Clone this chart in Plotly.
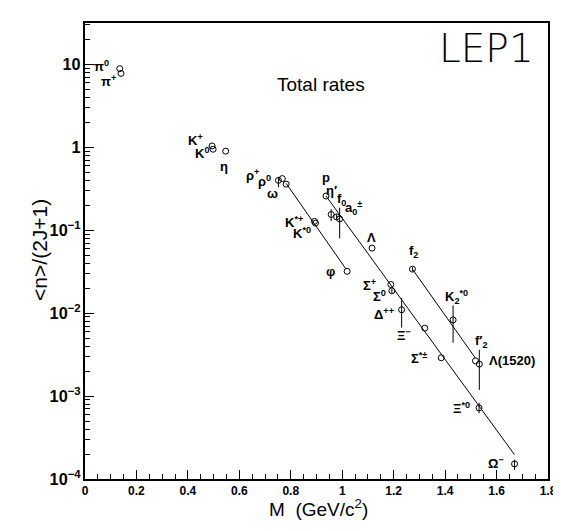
import numpy as np
import plotly.graph_objects as go

# ---- data ----
particles = ["pi0", "pi+", "K+", "K0", "eta", "rho+", "rho0", "omega", "K*+", "K*0", "phi",
             "p", "eta'", "f0", "a0+-", "Lambda", "Sigma+", "Sigma0", "Delta++", "f2", "Xi-",
             "Sigma*", "K2*0", "f2'", "Lambda(1520)", "Xi*0", "Omega-"]
mass = [0.135, 0.140, 0.494, 0.498, 0.547, 0.752, 0.767, 0.782, 0.892, 0.896, 1.019,
        0.937, 0.957, 0.978, 0.990, 1.116, 1.189, 1.193, 1.231, 1.273, 1.321,
        1.385, 1.431, 1.518, 1.533, 1.532, 1.670]
rate = [8.9, 7.8, 1.04, 0.95, 0.90, 0.40, 0.42, 0.36, 0.128, 0.122, 0.032,
        0.259, 0.155, 0.145, 0.137, 0.061, 0.0222, 0.0186, 0.011, 0.034, 0.0066,
        0.0029, 0.0083, 0.00266, 0.00243, 0.00072, 1.52e-4]
err_up = [0, 0, 0, 0, 0, 0.04, 0, 0, 0, 0, 0,
          0, 0.025, 0.01, 0.05, 0, 0, 0.0012, 0.0042, 0.002, 0,
          0, 0.0041, 0, 0.0012, 0.00011, 0.19e-4]
err_down = [0, 0, 0, 0, 0, 0.07, 0, 0, 0, 0, 0,
            0, 0.026, 0.01, 0.057, 0, 0, 0.0012, 0.0043, 0.002, 0,
            0, 0.0039, 0, 0.00124, 0.0001, 0.23e-4]

# fitted lines (start/end mass, start/end rate)
line1_m = [0.782, 1.015]
line1_r = [0.368, 0.034]
line2_m = [0.937, 1.670]
line2_r = [0.259, 1.96e-4]
line3_m = [1.273, 1.518]
line3_r = [0.0339, 0.00287]

# particle labels (text, mass position, rate position)
label_text = ["π<sup>0</sup>", "π<sup>+</sup>", "K<sup>+</sup>", "K<sup>0</sup>", "η",
              "ρ<sup>+</sup>", "ρ<sup>0</sup>", "ω", "p", "η′", "f<sub>0</sub>",
              "a<sub>0</sub><sup>±</sup>", "K<sup>*+</sup>", "K<sup>*0</sup>", "φ", "Λ",
              "f<sub>2</sub>", "Σ<sup>+</sup>", "Σ<sup>0</sup>", "Δ<sup>++</sup>",
              "Ξ<sup>−</sup>", "Σ<sup>*±</sup>", "K<sub>2</sub><sup>*0</sup>",
              "f′<sub>2</sub>", "Λ(1520)", "Ξ<sup>*0</sup>", "Ω<sup>−</sup>"]
label_m = [0.066, 0.090, 0.431, 0.454, 0.542, 0.652, 0.698, 0.728, 0.935, 0.957, 0.998,
           1.042, 0.812, 0.844, 0.955, 1.115, 1.279, 1.107, 1.145, 1.162,
           1.241, 1.298, 1.445, 1.540, 1.660, 1.465, 1.598]
label_r = [9.6, 6.3, 1.22, 0.85, 0.59, 0.46, 0.39, 0.279, 0.43, 0.305, 0.236,
           0.187, 0.125, 0.092, 0.0318, 0.0817, 0.0553, 0.0219, 0.0163, 0.0097,
           0.00548, 0.00292, 0.0155, 0.00456, 0.00266, 7.2e-4, 1.56e-4]

FONT = "Liberation Sans, Arial, sans-serif"

fig = go.Figure()
for lm, lr in [(line1_m, line1_r), (line2_m, line2_r), (line3_m, line3_r)]:
    fig.add_trace(go.Scatter(x=lm, y=lr, mode="lines",
                             line=dict(color="black", width=1), hoverinfo="skip",
                             showlegend=False))

fig.add_trace(go.Scatter(
    x=mass, y=rate, mode="markers", text=particles,
    marker=dict(symbol="circle-open", size=6, color="black", line=dict(width=1)),
    error_y=dict(type="data", symmetric=False, array=err_up, arrayminus=err_down,
                 thickness=1, width=0, color="black"),
    showlegend=False))

annotations = []
for t, lm, lr in zip(label_text, label_m, label_r):
    annotations.append(dict(x=lm, y=np.log10(lr), xref="x", yref="y", text=t,
                            showarrow=False, xanchor="center", yanchor="middle",
                            font=dict(family=FONT, size=13, color="black", weight="bold")))

annotations += [
    dict(x=1.0, y=1.0, xref="paper", yref="paper", xanchor="right", yanchor="top",
         text="LEP1", showarrow=False, xshift=-12, yshift=-1,
         font=dict(family="DejaVu Sans", size=39, color="black", weight=300)),
    dict(x=(318 - 77) / 472, y=(471 - 76) / 456, xref="paper", yref="paper",
         xanchor="center", yanchor="middle",
         text="Total rates", showarrow=False,
         font=dict(family=FONT, size=19, color="black")),
    dict(x=(30 - 77) / 472, y=(471 - 242) / 456, xref="paper", yref="paper",
         xanchor="center", yanchor="middle",
         text="&lt;n&gt;/(2J+1)", textangle=-90, showarrow=False,
         font=dict(family=FONT, size=21, color="black")),
    dict(x=(315 - 77) / 472, y=(471 - 500) / 456, xref="paper", yref="paper",
         xanchor="center", yanchor="middle",
         text="M  (GeV/c<sup>2</sup>)", showarrow=False,
         font=dict(family=FONT, size=19, color="black")),
]

fig.update_layout(
    width=561, height=531,
    margin=dict(l=77, r=12, t=15, b=60),
    paper_bgcolor="white", plot_bgcolor="white",
    annotations=annotations,
    xaxis=dict(range=[0, 1.8], dtick=0.2, tick0=0, ticks="inside", ticklen=9,
               tickwidth=1, tickcolor="black",
               minor=dict(ticks="inside", dtick=0.05, ticklen=5, tickcolor="black",
                          showgrid=False),
               showline=True, linecolor="black", linewidth=1.5, mirror=True,
               showgrid=False, zeroline=False,
               tickfont=dict(family=FONT, size=12, color="black", weight="bold")),
    yaxis=dict(type="log", range=[-4, 1.5], dtick=1, tick0=0, exponentformat="power",
               ticks="inside", ticklen=9, tickwidth=1, tickcolor="black",
               minor=dict(ticks="inside", dtick="D1", ticklen=5, tickcolor="black",
                          showgrid=False),
               showline=True, linecolor="black", linewidth=1.5, mirror=True,
               showgrid=False, zeroline=False,
               tickfont=dict(family=FONT, size=13, color="black", weight="bold")),
)

fig.write_html("out.html")
